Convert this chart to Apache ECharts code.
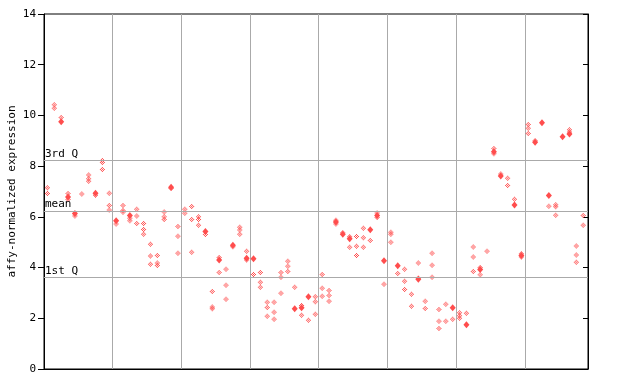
<!DOCTYPE html>
<html><head><meta charset="utf-8">
<script src="https://cdn.jsdelivr.net/npm/echarts@6/dist/echarts.min.js"></script>
<style>html,body{margin:0;padding:0;background:#fff}#c{width:640px;height:384px}</style>
</head><body><div id="c"></div>
<script>
// Replicate values per sample column (index = column)
const hollowVals = [
 [7.15,6.92],[10.42,10.28],[9.92],[6.92,6.68],[6.03],[6.9],[7.65,7.5,7.4],[6.85],[8.22,8.14,7.87],[6.93,6.45,6.27],
 [5.72],[6.45,6.25,6.18],[5.95,5.85],[6.3,6.03,5.74],[5.74,5.5,5.31],[4.92,4.46,4.13],[4.48,4.18,4.08],[6.19,6.0,5.9],[7.12],[5.62,5.24,4.56],
 [6.3,6.14],[6.41,5.9,4.6],[6.0,5.9,5.67],[5.3],[3.06,2.45,2.38],[4.4,3.81],[3.93,3.3,2.75],[4.82],[5.59,5.48,5.31],[4.64,4.3],
 [3.73],[3.81,3.42,3.22],[2.63,2.43,2.08],[2.63,2.24,1.96],[3.81,3.62,2.99],[4.25,4.05,3.85],[3.22],[2.5,2.12],[1.92],[2.85,2.65,2.16],
 [3.73,3.18,2.87],[3.1,2.9,2.67],[5.87,5.72],[5.37],[5.22,4.8],[5.23,4.84,4.48],[5.55,5.18,4.8],[5.07],[6.15,5.97],[3.34],
 [5.39,5.31,5.0],[3.77],[3.93,3.46,3.14],[2.95,2.47],[4.18,3.58],[2.67,2.39],[4.56,4.09,3.62],[2.35,1.88,1.6],[2.55,1.88],[1.96],
 [2.22,2.1,2.0],[2.2],[4.81,4.42,3.85],[4.0,3.72],[4.64],[8.7,8.49],[7.69],[7.52,7.24],[6.69],[4.55,4.42],
 [9.64,9.49,9.29],[9.0],[],[6.42],[6.48,6.4,6.06],[],[9.44,9.35],[4.85,4.5,4.21],[6.05,5.67]
];
const solidVals = [
 [],[],[9.75],[6.78],[6.13],[],[],[6.93],[],[],
 [5.85],[],[6.05],[],[],[],[],[],[7.17],[],
 [],[],[],[5.42],[],[4.3],[],[4.88],[],[4.37],
 [4.35],[],[],[],[],[],[2.38],[2.42],[2.85],[],
 [],[],[5.8],[5.31],[5.14],[],[],[5.49],[6.05],[4.27],
 [],[4.07],[],[],[3.54],[],[],[],[],[2.42],
 [],[1.75],[],[3.92],[],[8.57],[7.61],[],[6.47],[4.48],
 [],[8.94],[9.71],[6.84],[],[9.16],[9.27],[],[]
];
const refLines = [
 {name:'3rd Q', value:8.22},
 {name:'mean', value:6.23},
 {name:'1st Q', value:3.62}
];
const yTicks = [0,2,4,6,8,10,12,14];

function pixDiamond(n, checker){
  const c=(n-1)/2; let s='';
  for(let y=0;y<n;y++) for(let x=0;x<n;x++){
    if(Math.abs(x-c)+Math.abs(y-c)<=c && (!checker || (x+y)%2===0)) s+=`M${x} ${y}h1v1h-1Z`;
  }
  return 'path://'+s;
}
function build(vals){
  const out=[];
  vals.forEach((arr,i)=>arr.forEach(v=>out.push([i+0.5,v])));
  return out;
}
const RED='#ff4d4d';
const mono='"DejaVu Sans Mono", monospace';
const chart=echarts.init(document.getElementById('c'),null,{renderer:'canvas'});
chart.setOption({
  animation:false,
  grid:{left:44,right:52,top:14,bottom:15,containLabel:false,outerBoundsMode:'none',
    show:true,borderColor:'#000',borderWidth:1,backgroundColor:'transparent'},
  xAxis:{type:'value',min:0,max:79.2,interval:10,
    axisLine:{show:true,lineStyle:{color:'#000'}},axisTick:{show:false},axisLabel:{show:false},
    splitLine:{show:true,lineStyle:{color:'#aaaaaa',width:1}}},
  yAxis:[{type:'value',min:yTicks[0],max:yTicks[yTicks.length-1],interval:2,
    name:'affy-normalized expression',nameLocation:'middle',nameGap:26,nameRotate:90,nameMoveOverlap:false,
    nameTextStyle:{fontFamily:mono,fontSize:11,color:'#000'},
    axisLine:{show:true,lineStyle:{color:'#000'}},
    axisTick:{show:true,length:6,lineStyle:{color:'#000'}},
    axisLabel:{fontFamily:mono,fontSize:11,color:'#000',margin:8},
    splitLine:{show:false}},
   {type:'value',position:'right',min:yTicks[0],max:yTicks[yTicks.length-1],interval:2,
    axisLine:{show:true,lineStyle:{color:'#000'}},
    axisTick:{show:true,inside:true,length:5,lineStyle:{color:'#000'}},
    axisLabel:{show:false},splitLine:{show:false}}],
  series:[
    {type:'scatter',data:build(hollowVals),symbol:pixDiamond(5,true),symbolSize:5,
     itemStyle:{color:RED,opacity:1},z:3,
     markLine:{silent:true,symbol:'none',animation:false,
       lineStyle:{color:'#aaaaaa',width:1,type:'solid'},
       label:{show:true,position:'insideStartTop',distance:[1,1],formatter:'{b}',fontFamily:mono,fontSize:11,color:'#000'},
       data:refLines.map(r=>({name:r.name,yAxis:r.value}))}},
    {type:'scatter',data:build(solidVals),symbol:'diamond',symbolSize:[6,7],
     itemStyle:{color:RED,opacity:1},z:4}
  ]
});
</script></body></html>
